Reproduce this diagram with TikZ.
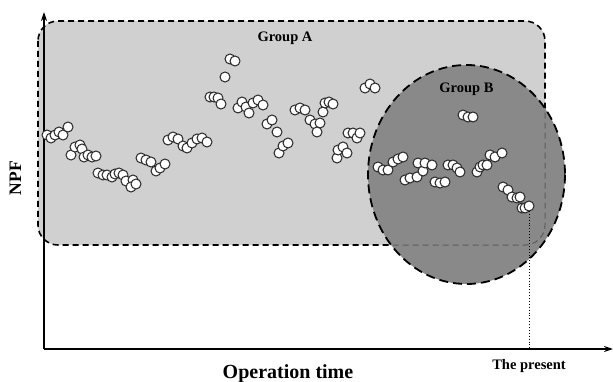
\documentclass[tikz,border=0pt]{standalone}
\usepackage{fontspec}
\setmainfont{Liberation Serif}
\usetikzlibrary{arrows.meta}
\definecolor{grpA}{HTML}{D0D0D0}
\definecolor{grpB}{HTML}{898989}
\definecolor{inner}{HTML}{5C5C5C}
\tikzset{
  dotpt/.style={fill=white,draw=black!85,line width=1pt},
  axisline/.style={line width=1.4pt,-{Stealth[length=9pt,width=6pt]}},
  rectborder/.style={line width=1.6pt,dash pattern=on 6pt off 4pt,rounded corners=20pt},
  lbl/.style={font=\bfseries,inner sep=0pt}
}
\begin{document}
\begin{tikzpicture}[x=1pt,y=-1pt]
\useasboundingbox (0,0) rectangle (613,382);
% group A rectangle
\fill[grpA,rounded corners=20pt] (38,21) rectangle (545,245);
\draw[rectborder] (38,21) rectangle (545,245);
% group B ellipse
\fill[grpB] (466.5,174.5) ellipse [x radius=98.5, y radius=109.5];
\begin{scope}
\clip (466.5,174.5) ellipse [x radius=97, y radius=108];
\draw[rectborder,draw=inner,line width=1pt] (38,21) rectangle (545,245);
\end{scope}
\draw[line width=1.8pt,dash pattern=on 9pt off 5pt] (466.5,174.5) ellipse [x radius=98.5, y radius=109.5];
% axes
\coordinate (O) at (44,349);
\coordinate (Ytop) at (44,12);
\coordinate (Xend) at (613,349);
\draw[axisline] (O) -- (Ytop);
\draw[axisline] (O) -- (Xend);
% data points
\foreach \x/\y in {
47/135,51/138,55/135,59/132,63/135,68/127,
71/155,75/147,80/145,82/149,84/157,88/155,92/157,96/156,
98/173,103/175,107/175,112/177,115/174,119/173,123/175,126/181,133/180,131/187,136/184,
141/158,146/160,151/162,156/171,160/168,165/164,
168/140,173/137,178/139,183/146,187/148,192/143,197/139,202/138,207/142,
225/77,230/59,235/61,
210/97,214/97,218/98,221/104,
238/108,242/102,246/107,249/113,253/103,258/100,263/105,
267/124,272/120,277/132,
279/153,283/146,288/143,
295/110,300/108,305/110,
310/120,315/124,320/123,317/132,
323/112,325/103,329/102,333/104,
337/158,338/150,343/147,347/153,
348/133,353/133,357/138,360/133,
365/88,370/84,375/88,
463/115,468/117,473/117,
378/167,383/170,388/170,393/162,398/159,403/157,
405/180,410/178,417/177,418/163,423/171,425/163,432/165,
435/182,440/183,445/182,
448/165,453/165,457/168,460/172,
477/172,480/167,483/165,487/165,490/155,495/157,502/153,
503/187,508/190,512/197,517/198,520/197,
522/208,525/208,529/206}
  \draw[dotpt] (\x,\y) circle[radius=5pt];
% present marker
\coordinate (Plast) at (529,211);
\coordinate (Pbase) at (529,349);
\draw[dotted,line width=0.9pt] (Plast) -- (Pbase);
% labels
\node[lbl,anchor=base,font=\bfseries\fontsize{14.5}{16}\selectfont] (gA) at (285,42) {Group A};
\node[lbl,anchor=base,font=\bfseries\fontsize{14.5}{16}\selectfont] (gB) at (466.5,93) {Group B};
\node[lbl,anchor=base,font=\bfseries\fontsize{20}{22}\selectfont] (xl) at (288,378) {Operation time};
\node[lbl,anchor=base,font=\bfseries\fontsize{14.5}{16}\selectfont] (pl) at (529,369) {The present};
\node[lbl,anchor=base,rotate=90,font=\bfseries\fontsize{17.5}{19}\selectfont] (yl) at (21,178) {NPF};
\end{tikzpicture}
\end{document}
